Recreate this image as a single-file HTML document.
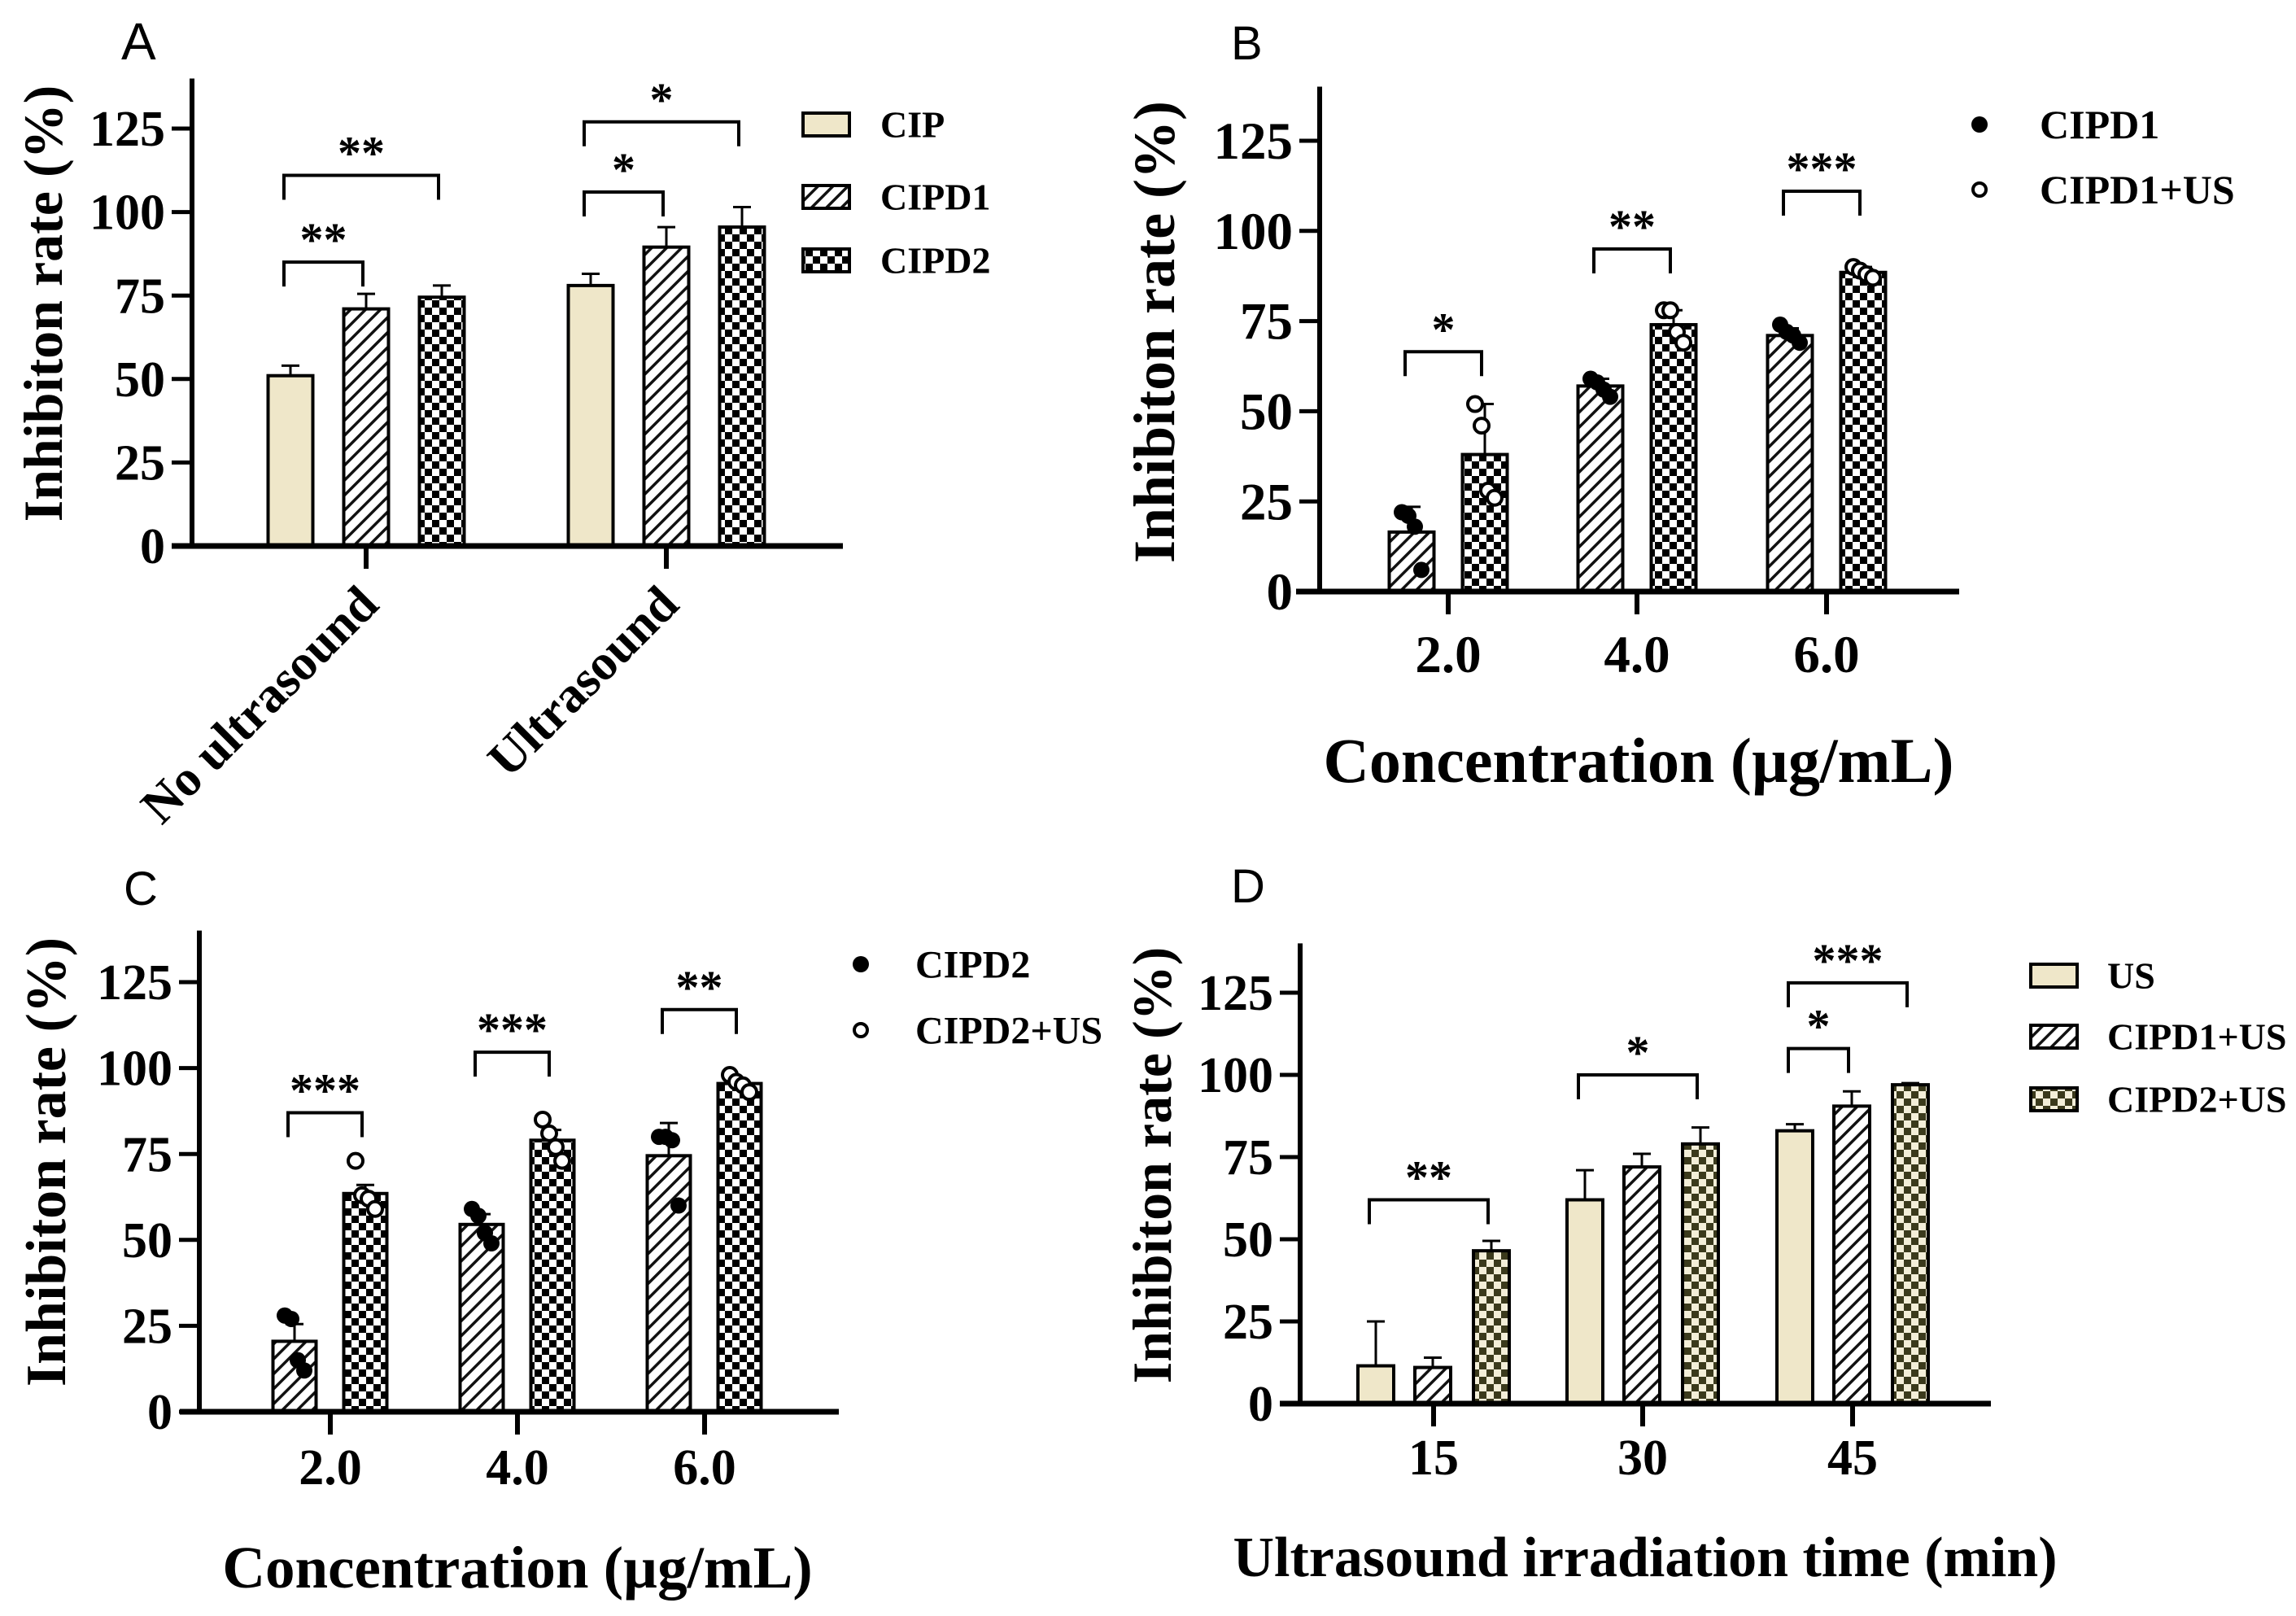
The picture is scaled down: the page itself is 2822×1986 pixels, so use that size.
<!DOCTYPE html>
<html><head><meta charset="utf-8"><style>
html,body{margin:0;padding:0;background:#fff;}
svg{display:block;}
text{font-family:"Liberation Serif",serif;font-weight:bold;fill:#000;}
.lab{font-family:"Liberation Sans",sans-serif;font-weight:normal;}
</style></head><body>
<svg id="chart" xmlns="http://www.w3.org/2000/svg" width="2822" height="1986" viewBox="0 0 2822 1986">
<defs>
<pattern id="hatch" patternUnits="userSpaceOnUse" width="13" height="13" patternTransform="rotate(45)">
<rect width="13" height="13" fill="#fff"/><rect x="0" y="0" width="3.5" height="13" fill="#111"/></pattern>
<pattern id="check" patternUnits="userSpaceOnUse" width="18" height="18">
<rect width="18" height="18" fill="#fff"/><rect width="9" height="9" fill="#000"/><rect x="9" y="9" width="9" height="9" fill="#000"/></pattern>
<pattern id="checkOlive" patternUnits="userSpaceOnUse" width="18" height="18">
<rect width="18" height="18" fill="#f3eed8"/><rect width="9" height="9" fill="#3b3a1c"/><rect x="9" y="9" width="9" height="9" fill="#3b3a1c"/></pattern>
</defs>
</svg>
<script>
// ---------- Panel A data ----------
const catsA = ['No ultrasound','Ultrasound'];
const seriesA = ['CIP','CIPD1','CIPD2'];
const aCIP = [51, 78];
const aCIPerr = [3, 3.5];
const aD1 = [71, 89.5];
const aD1err = [4.5, 6];
const aD2 = [74.5, 95.5];
const aD2err = [3.5, 6];
const sigA = [[0,0,1,85,'**'],[0,0,2,111,'**'],[1,0,1,106,'*'],[1,0,2,127,'*']];
// ---------- Panel B data ----------
const catsB = ['2.0','4.0','6.0'];
const seriesB = ['CIPD1','CIPD1+US'];
const bD1 = [16.5, 57, 71];
const bD1err = [7, 2, 2];
const bUS = [38, 74, 88.5];
const bUSerr = [14, 4, 1.5];
const bD1pts = [[22,21,18,6],[59,58,56,54],[74,72,71,69]];
const bUSpts = [[52,46,28,26],[78,78,72,69],[90,89,88,87]];
const sigB = [[0,0,1,66.5,'*'],[1,0,1,95,'**'],[2,0,1,111,'***']];
// ---------- Panel C data ----------
const catsC = ['2.0','4.0','6.0'];
const seriesC = ['CIPD2','CIPD2+US'];
const cD2 = [20.5, 54.5, 74.5];
const cD2err = [5, 3, 9.5];
const cUS = [63.5, 79, 95.5];
const cUSerr = [2.5, 3, 1];
const cD2pts = [[28,27,15,12],[59,57,52,49],[80,80,79,60]];
const cUSpts = [[73,63,62,59],[85,81,77,73],[98,96,95,93]];
const sigC = [[0,0,1,87,'***'],[1,0,1,104.6,'***'],[2,0,1,117,'**']];
// ---------- Panel D data ----------
const catsD = ['15','30','45'];
const seriesD = ['US','CIPD1+US','CIPD2+US'];
const dUS = [11.5, 62, 83];
const dUSerr = [13.5, 9, 2];
const dD1 = [11, 72, 90.5];
const dD1err = [3, 4, 4.5];
const dD2 = [46.5, 79, 97];
const dD2err = [3, 5, 0.5];
const sigD = [[0,0,2,62,'**'],[1,0,2,100,'*'],[2,0,1,108,'*'],[2,0,2,128,'***']];
const yTicks = [0,25,50,75,100,125];

const NS='http://www.w3.org/2000/svg';
const svg=document.getElementById('chart');
function el(tag, attrs, parent){const e=document.createElementNS(NS,tag);for(const k in attrs)e.setAttribute(k,attrs[k]);(parent||svg).appendChild(e);return e;}
function txt(parent,x,y,s,size,anchor,cls){const t=el('text',{x:x,y:y,'font-size':size,'text-anchor':anchor||'start'},parent);if(cls)t.setAttribute('class',cls);t.textContent=s;return t;}

function panel(cfg){
  const g=el('g',{});
  
  
  const Y=v=>cfg.y0-v*cfg.ppu;
  const X=(ci,si)=>cfg.ticks[ci]+cfg.offs[si];
  // panel letter
  const L=txt(g,cfg.letter[1],cfg.letter[2],cfg.letter[0],cfg.letter[3],'start','lab');
  
  
  // bars
  cfg.series.forEach((s,si)=>{
    cfg.vals[si].forEach((v,ci)=>{
      const cx=X(ci,si);
      const e=cfg.errs[si][ci];
      const ln=el('line',{x1:cx,x2:cx,y1:Y(v),y2:Y(v+e),stroke:'#000','stroke-width':3},g);
      
      
      const cp=el('line',{x1:cx-11,x2:cx+11,y1:Y(v+e),y2:Y(v+e),stroke:'#000','stroke-width':3},g);
      
      
      const r=el('rect',{x:cx-cfg.barW/2,y:Y(v),width:cfg.barW,height:v*cfg.ppu,fill:cfg.fills[si],stroke:'#000','stroke-width':4},g);
      
      
      if(cfg.pts){
        cfg.pts[si][ci].forEach((p,pi)=>{
          const jx=[-12,-4,4,12][pi];
          const c=el('circle',{cx:cx+jx,cy:Y(p),r:si===0?10:9,fill:si===0?'#000':'#fff',stroke:'#000','stroke-width':si===0?0:4},g);
          
          
        });
      }
    });
  });
  // axes
  const ya=el('line',{x1:cfg.axX,x2:cfg.axX,y1:Y(140),y2:cfg.y0+3,stroke:'#000','stroke-width':6},g);
  
  
  const xa=el('line',{x1:cfg.xS,x2:cfg.xE,y1:cfg.y0,y2:cfg.y0,stroke:'#000','stroke-width':7},g);
  
  
  yTicks.forEach(t=>{
    const tk=el('line',{x1:cfg.axX-25,x2:cfg.axX,y1:Y(t),y2:Y(t),stroke:'#000','stroke-width':5},g);
    
    
    const tl=txt(g,cfg.axX-33,Y(t)+cfg.tickF*0.34,String(t),cfg.tickF,'end');
    
    
  });
  cfg.cats.forEach((c,ci)=>{
    const tx=cfg.ticks[ci];
    const tk=el('line',{x1:tx,x2:tx,y1:cfg.y0,y2:cfg.y0+28,stroke:'#000','stroke-width':6},g);
    
    
    let tl;
    if(cfg.rotX){
      tl=txt(g,0,0,c,cfg.tickF,'end');
      tl.setAttribute('transform','translate('+(tx+18)+','+(cfg.y0+75)+') rotate(-45)');
    } else {
      tl=txt(g,tx,cfg.xLabY,c,cfg.tickF,'middle');
    }
    
    
  });
  // y title
  const yt=txt(g,0,0,'Inhibiton rate (%)',cfg.yt[2],'middle');
  yt.setAttribute('transform','translate('+cfg.yt[0]+','+cfg.yt[1]+') rotate(-90)');
  
  
  if(cfg.xt){
    const xt=txt(g,cfg.xt[1],cfg.xt[2],cfg.xt[0],cfg.xt[3],'middle');
    
    
  }
  // significance brackets
  cfg.sig.forEach(s=>{
    const x1=X(s[0],s[1])-8, x2=X(s[0],s[2])-4, yy=Y(s[3]), yl=yy+30;
    const p=el('polyline',{points:x1+','+yl+' '+x1+','+yy+' '+x2+','+yy+' '+x2+','+yl,fill:'none',stroke:'#000','stroke-width':4},g);
    
    
    const st=txt(g,(x1+x2)/2,yy-8,s[4],58,'middle');
    
    
  });
  // legend
  cfg.series.forEach((s,si)=>{
    const ly=cfg.leg.ys[si];
    let m;
    if(cfg.leg.type==='box'){
      m=el('rect',{x:cfg.leg.mx,y:ly-14,width:57,height:28,fill:cfg.fills[si],stroke:'#000','stroke-width':4},g);
    } else {
      m=el('circle',{cx:cfg.leg.mx,cy:ly,r:si===0?10:8,fill:si===0?'#000':'#fff',stroke:'#000','stroke-width':si===0?0:4},g);
    }
    
    
    const t=txt(g,cfg.leg.tx,ly+cfg.leg.f*0.34,s,cfg.leg.f,'start');
    
    
  });
}

panel({name:'panel-a',letter:['A',149,73,64],axX:236,y0:671,ppu:4.104,xS:211,xE:1036,ticks:[450,819],offs:[-93,0,93],barW:55,
  cats:catsA,series:seriesA,vals:[aCIP,aD1,aD2],errs:[aCIPerr,aD1err,aD2err],fills:['#efe7c9','url(#hatch)','url(#check)'],
  tickF:62,rotX:true,yt:[76,373,68],sig:sigA,leg:{type:'box',mx:987,ys:[153,242,320],tx:1082,f:46}});
panel({name:'panel-b',letter:['B',1513,73,58],axX:1622,y0:727,ppu:4.432,xS:1593,xE:2408,ticks:[1780,2012,2245],offs:[-45,45],barW:55,
  cats:catsB,series:seriesB,vals:[bD1,bUS],errs:[bD1err,bUSerr],pts:[bD1pts,bUSpts],fills:['url(#hatch)','url(#check)'],
  tickF:65,xLabY:826,yt:[1443,408,72],xt:['Concentration (µg/mL)',2014,961,78],sig:sigB,leg:{type:'dot',mx:2433,ys:[153,233],tx:2507,f:50}});
panel({name:'panel-c',letter:['C',152,1112,58],axX:245,y0:1735,ppu:4.224,xS:221,xE:1031,ticks:[406,636,866],offs:[-44,43],barW:53,
  cats:catsC,series:seriesC,vals:[cD2,cUS],errs:[cD2err,cUSerr],pts:[cD2pts,cUSpts],fills:['url(#hatch)','url(#check)'],
  tickF:62,xLabY:1824,yt:[80,1428,70],xt:['Concentration (µg/mL)',636,1951,73],sig:sigC,leg:{type:'dot',mx:1058,ys:[1185,1266],tx:1125,f:48}});
panel({name:'panel-d',letter:['D',1513,1109,58],axX:1598,y0:1725,ppu:4.04,xS:1573,xE:2447,ticks:[1762,2019,2277],offs:[-71,-1,71],barW:44,
  cats:catsD,series:seriesD,vals:[dUS,dD1,dD2],errs:[dUSerr,dD1err,dD2err],fills:['#efe7c9','url(#hatch)','url(#checkOlive)'],
  tickF:62,xLabY:1812,yt:[1439,1432,68],xt:['Ultrasound irradiation time (min)',2022,1937,70],sig:sigD,leg:{type:'box',mx:2496,ys:[1199,1274,1351],tx:2590,f:46}});
</script>
</body></html>
